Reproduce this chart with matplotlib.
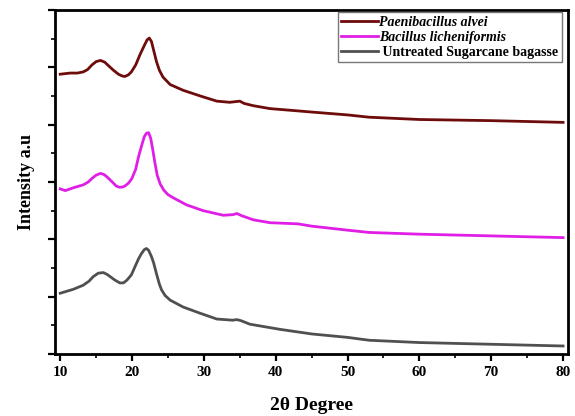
import matplotlib.pyplot as plt
from matplotlib.ticker import MultipleLocator

# 2theta positions and intensities (arbitrary offset units)
paeni_x = [10, 11.4, 12.4, 13.2, 13.8, 14.4, 15.0, 15.6, 16.2, 16.7, 17.4, 18.1, 18.6, 19.0, 19.5,
           19.9, 20.5, 21.1, 21.7, 22.1, 22.4, 22.7, 23.0, 23.4, 23.8, 24.3, 25.3,
           27.1, 29.5, 31.8, 33.6, 34.3, 35.0, 35.6, 36.9, 39.2, 43.1, 45, 50, 53, 60, 70, 80]
paeni_y = [4.88, 4.90, 4.90, 4.92, 4.96, 5.04, 5.10, 5.12, 5.09, 5.03, 4.95, 4.88, 4.85, 4.84, 4.87,
           4.92, 5.04, 5.22, 5.38, 5.48, 5.51, 5.45, 5.30, 5.10, 4.95, 4.83, 4.70,
           4.60, 4.50, 4.41, 4.39, 4.40, 4.41, 4.37, 4.33, 4.28, 4.24, 4.22, 4.17, 4.13, 4.09, 4.07, 4.04]

lich_x = [10, 10.7, 11.85, 13.2, 13.9, 14.4, 15.0, 15.6, 16.1, 16.5, 17.0, 17.4, 17.8, 18.2, 18.6,
          19.0, 19.5, 19.97, 20.5, 20.9, 21.3, 21.7, 22.0, 22.3, 22.6, 22.9, 23.2, 23.5, 23.9,
          24.4, 25.0, 25.8, 27.6, 29.9, 32.7, 34.0, 34.6, 35.3, 36.9, 39.2, 43.1, 45, 50, 53, 60, 70, 80]
lich_y = [2.88, 2.85, 2.90, 2.95, 3.00, 3.06, 3.12, 3.15, 3.13, 3.09, 3.03, 2.98, 2.93, 2.91, 2.91,
          2.93, 2.98, 3.06, 3.22, 3.44, 3.62, 3.79, 3.85, 3.86, 3.76, 3.55, 3.32, 3.12, 2.97,
          2.86, 2.78, 2.72, 2.60, 2.50, 2.42, 2.43, 2.45, 2.41, 2.34, 2.29, 2.27, 2.23, 2.16, 2.12, 2.09, 2.06, 2.03]

raw_x = [10, 11.85, 13.2, 14.0, 14.6, 15.3, 16.0, 16.5, 16.95, 17.6, 18.3, 18.8, 19.3, 19.9,
         20.4, 20.9, 21.3, 21.7, 22.0, 22.3, 22.7, 23.0, 23.4, 23.8, 24.1, 24.6, 25.3,
         27.1, 29.5, 31.8, 34.0, 34.6, 35.2, 36.4, 40.6, 45, 50, 53, 60, 70, 80]
raw_y = [1.06, 1.13, 1.20, 1.27, 1.35, 1.41, 1.42, 1.39, 1.35, 1.29, 1.24, 1.24, 1.29, 1.38,
         1.52, 1.66, 1.75, 1.82, 1.84, 1.81, 1.70, 1.59, 1.40, 1.22, 1.12, 1.02, 0.94,
         0.82, 0.71, 0.61, 0.59, 0.60, 0.58, 0.52, 0.43, 0.35, 0.29, 0.24, 0.20, 0.17, 0.14]

labels = ['Paenibacillus alvei', 'Bacillus licheniformis', ' Untreated Sugarcane bagasse']
colors = ['#6e0b0b', '#e01ee6', '#505050']

plt.rcParams['font.family'] = ['Liberation Serif', 'DejaVu Serif']
plt.rcParams['font.weight'] = 'bold'

fig = plt.figure(figsize=(5.75, 4.16), dpi=100)
ax = fig.add_axes([0.096, 0.149, 0.892, 0.827])

ax.plot(paeni_x, paeni_y, color=colors[0], lw=2.0, label=labels[0])
ax.plot(lich_x, lich_y, color=colors[1], lw=2.0, label=labels[1])
ax.plot(raw_x, raw_y, color=colors[2], lw=2.0, label=labels[2])

ax.set_xlim(9.3, 80.7)
ax.set_ylim(0, 6)
ax.xaxis.set_major_locator(MultipleLocator(10))
ax.xaxis.set_minor_locator(MultipleLocator(5))
ax.yaxis.set_major_locator(MultipleLocator(1))
ax.yaxis.set_minor_locator(MultipleLocator(0.5))
ax.set_yticklabels([])
ax.tick_params(which='major', direction='out', length=5, width=1.6, labelsize=11)
ax.tick_params(which='minor', direction='out', length=3, width=1.2)
for s in ax.spines.values():
    s.set_linewidth(2)

ax.set_xlabel('2θ Degree', fontsize=14, fontweight='bold', labelpad=13)
ax.set_ylabel('Intensity a.u', fontsize=13, fontweight='bold', labelpad=6)

leg = ax.legend(loc='upper right', bbox_to_anchor=(0.99, 0.998), borderaxespad=0.1,
                fontsize=10, handlelength=2.6, handletextpad=0.1, labelspacing=0.15,
                borderpad=0.25, fancybox=False, framealpha=1)
leg.get_frame().set_edgecolor('#777777')
leg.get_frame().set_linewidth(1.0)
for t in leg.get_texts()[:2]:
    t.set_style('italic')

fig.savefig('out.png', dpi=100)
